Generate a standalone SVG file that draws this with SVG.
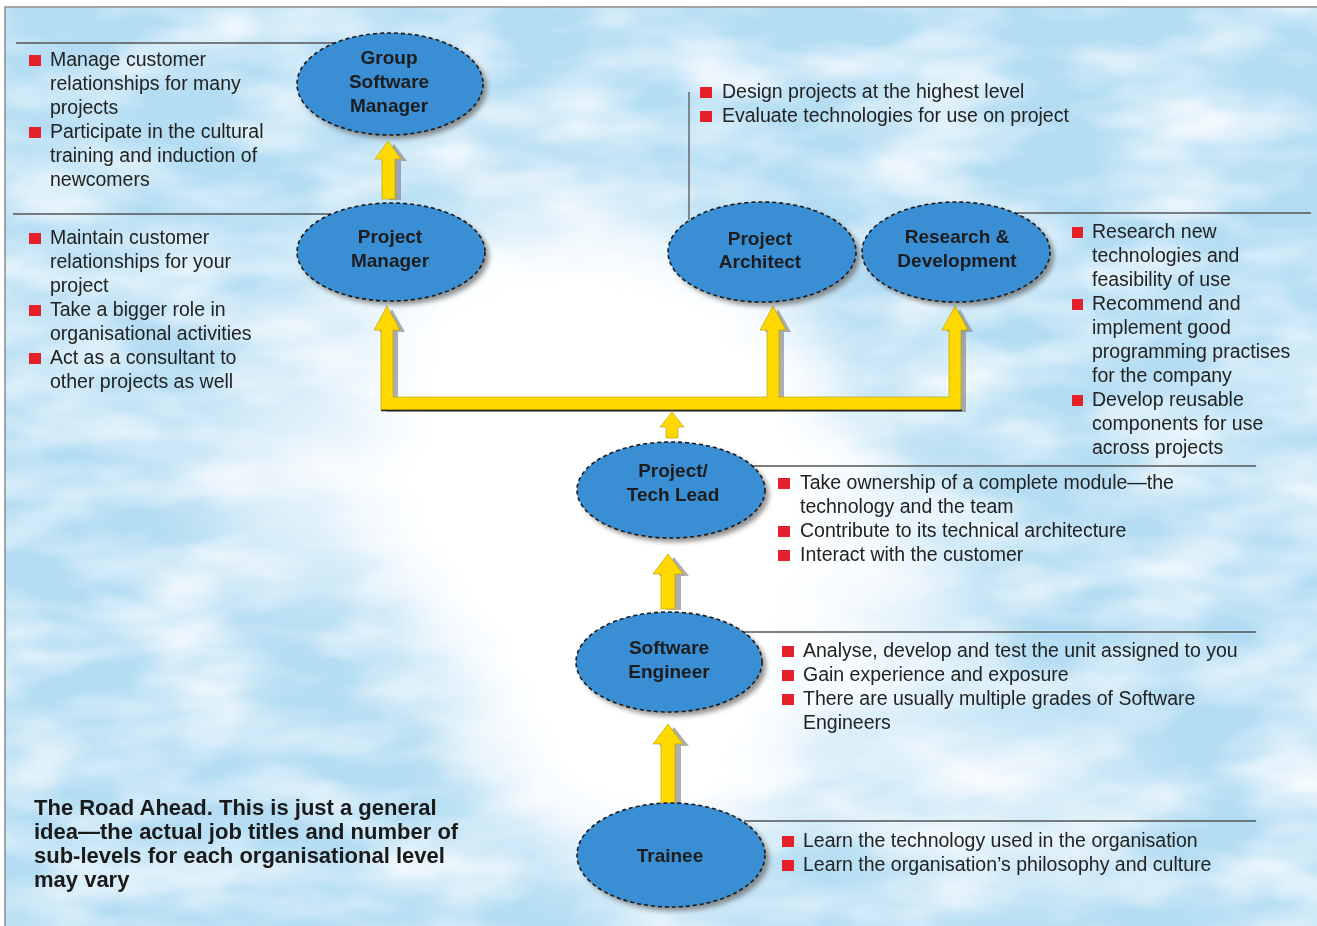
<svg xmlns="http://www.w3.org/2000/svg" width="1317" height="926" viewBox="0 0 1317 926">
<defs>
<style>
.t{font-family:"Liberation Sans",Arial,sans-serif;font-size:19.5px;fill:#222}
.n{font-family:"Liberation Sans",Arial,sans-serif;font-size:19px;font-weight:bold;fill:#1c1c1c;text-anchor:middle}
.c{font-family:"Liberation Sans",Arial,sans-serif;font-size:22px;font-weight:bold;fill:#1a1a1a}
.b{fill:#e5202a}
.rule{stroke:#555;stroke-width:1.3;fill:none}
.ell{fill:#3a8ed4;stroke:#1b1b1b;stroke-width:1.6;stroke-dasharray:4 3}
.sh{fill:#6d6d6d;opacity:0.75;filter:url(#blur)}
.arr{fill:#ffd800;stroke:#b39a00;stroke-width:0.6}
.ash{fill:#7a7a7a;opacity:0.6}
</style>
<filter id="blur" x="-20%" y="-20%" width="140%" height="140%"><feGaussianBlur stdDeviation="2.5"/></filter>
<filter id="soft" x="-50%" y="-50%" width="200%" height="200%"><feGaussianBlur stdDeviation="40"/></filter>
<filter id="tex" x="0" y="0" width="100%" height="100%">
<feTurbulence type="fractalNoise" baseFrequency="0.008 0.02" numOctaves="3" seed="4" result="n"/>
<feColorMatrix in="n" type="matrix" values="0 0 0 0 1  0 0 0 0 1  0 0 0 0 1  0 0 0 1.6 -0.55"/>
</filter>
</defs>
<g id="background">
<rect x="0" y="0" width="1317" height="926" fill="#ffffff"/>
<rect x="5" y="7" width="1312" height="919" fill="#b4ddf3"/>
<rect x="5" y="7" width="1312" height="919" filter="url(#tex)"/>
<g filter="url(#soft)" fill="#ffffff">
<ellipse cx="610" cy="480" rx="250" ry="260"/>
<ellipse cx="640" cy="720" rx="170" ry="150"/>
<ellipse cx="540" cy="320" rx="190" ry="100"/>
<ellipse cx="300" cy="470" rx="90" ry="120" opacity="0.6"/>
<ellipse cx="860" cy="600" rx="110" ry="140" opacity="0.7"/>
<ellipse cx="1000" cy="800" rx="140" ry="90" opacity="0.5"/>
</g>
<path d="M5 926 V7 H1317" fill="none" stroke="#8a8a8a" stroke-width="1.5"/>
</g>
<g id="connectors">
<path class="ash" d="M386 199 V160 H378 L391 143 L404 160 H398 V199 Z" transform="translate(3,1)"/>
<path class="arr" d="M382 199 V159 H375 L388 141 L401 159 H395 V199 Z"/>
<path class="ash" d="M384 411 V331 H377 L390 308 L403 331 H396 V399 H770 V331 H763 L776 308 L789 331 H782 V399 H952 V331 H945 L958 308 L971 331 H964 V411 Z" transform="translate(2,1)"/>
<path class="arr" d="M381 410 V330 H374 L387 306 L400 330 H393 V397 H767 V330 H760 L773 306 L786 330 H779 V397 H949 V330 H942 L955 306 L968 330 H961 V410 Z"/>
<line x1="381" y1="410.5" x2="962" y2="410.5" stroke="#222" stroke-width="1.5"/>
<path class="arr" d="M666 438 V427 H660 L672 412 L684 427 H678 V438 Z"/>
<path class="ash" d="M664 609 V575 H656 L671 556 L686 575 H678 V609 Z" transform="translate(3,1)"/>
<path class="arr" d="M661 609 V574 H653 L668 554 L683 574 H675 V609 Z"/>
<path class="ash" d="M664 804 V745 H656 L671 726 L686 745 H678 V804 Z" transform="translate(3,1)"/>
<path class="arr" d="M661 804 V744 H653 L668 724 L683 744 H675 V804 Z"/>
</g>
<g id="rules">
<line class="rule" x1="16" y1="43" x2="336" y2="43"/>
<line class="rule" x1="13" y1="214" x2="331" y2="214"/>
<line class="rule" x1="689" y1="92" x2="689" y2="220"/>
<line class="rule" x1="1015" y1="213" x2="1311" y2="213"/>
<line class="rule" x1="752" y1="466" x2="1256" y2="466"/>
<line class="rule" x1="743" y1="632" x2="1256" y2="632"/>
<line class="rule" x1="744" y1="821" x2="1256" y2="821"/>
</g>
<g id="group-software-manager">
<ellipse class="sh" cx="394" cy="88" rx="93" ry="51"/>
<ellipse class="ell" cx="390" cy="84" rx="93" ry="51"/>
<text class="n" x="389" y="64">Group</text>
<text class="n" x="389" y="88">Software</text>
<text class="n" x="389" y="112">Manager</text>
</g>
<g id="project-manager">
<ellipse class="sh" cx="395" cy="256" rx="94" ry="49"/>
<ellipse class="ell" cx="391" cy="252" rx="94" ry="49"/>
<text class="n" x="390" y="243">Project</text>
<text class="n" x="390" y="267">Manager</text>
</g>
<g id="project-architect">
<ellipse class="sh" cx="766" cy="256" rx="94" ry="50"/>
<ellipse class="ell" cx="762" cy="252" rx="94" ry="50"/>
<text class="n" x="760" y="245">Project</text>
<text class="n" x="760" y="268">Architect</text>
</g>
<g id="research-development">
<ellipse class="sh" cx="960" cy="256" rx="94" ry="50"/>
<ellipse class="ell" cx="956" cy="252" rx="94" ry="50"/>
<text class="n" x="957" y="243">Research &amp;</text>
<text class="n" x="957" y="267">Development</text>
</g>
<g id="tech-lead">
<ellipse class="sh" cx="675" cy="494" rx="94" ry="48"/>
<ellipse class="ell" cx="671" cy="490" rx="94" ry="48"/>
<text class="n" x="673" y="477">Project/</text>
<text class="n" x="673" y="501">Tech Lead</text>
</g>
<g id="software-engineer">
<ellipse class="sh" cx="673" cy="666" rx="93" ry="50"/>
<ellipse class="ell" cx="669" cy="662" rx="93" ry="50"/>
<text class="n" x="669" y="654">Software</text>
<text class="n" x="669" y="678">Engineer</text>
</g>
<g id="trainee">
<ellipse class="sh" cx="675" cy="859" rx="94" ry="52"/>
<ellipse class="ell" cx="671" cy="855" rx="94" ry="52"/>
<text class="n" x="670" y="862">Trainee</text>
</g>
<g id="gsm-notes">
<rect class="b" x="29" y="55" width="12" height="11"/>
<rect class="b" x="29" y="127" width="12" height="11"/>
<text class="t" x="50" y="66">Manage customer</text>
<text class="t" x="50" y="90">relationships for many</text>
<text class="t" x="50" y="114">projects</text>
<text class="t" x="50" y="138">Participate in the cultural</text>
<text class="t" x="50" y="162">training and induction of</text>
<text class="t" x="50" y="186">newcomers</text>
</g>
<g id="pm-notes">
<rect class="b" x="29" y="233" width="12" height="11"/>
<rect class="b" x="29" y="305" width="12" height="11"/>
<rect class="b" x="29" y="353" width="12" height="11"/>
<text class="t" x="50" y="244">Maintain customer</text>
<text class="t" x="50" y="268">relationships for your</text>
<text class="t" x="50" y="292">project</text>
<text class="t" x="50" y="316">Take a bigger role in</text>
<text class="t" x="50" y="340">organisational activities</text>
<text class="t" x="50" y="364">Act as a consultant to</text>
<text class="t" x="50" y="388">other projects as well</text>
</g>
<g id="pa-notes">
<rect class="b" x="700" y="87" width="12" height="11"/>
<rect class="b" x="700" y="111" width="12" height="11"/>
<text class="t" x="722" y="98">Design projects at the highest level</text>
<text class="t" x="722" y="122">Evaluate technologies for use on project</text>
</g>
<g id="rd-notes">
<rect class="b" x="1072" y="227" width="11" height="11"/>
<rect class="b" x="1072" y="299" width="11" height="11"/>
<rect class="b" x="1072" y="395" width="11" height="11"/>
<text class="t" x="1092" y="238">Research new</text>
<text class="t" x="1092" y="262">technologies and</text>
<text class="t" x="1092" y="286">feasibility of use</text>
<text class="t" x="1092" y="310">Recommend and</text>
<text class="t" x="1092" y="334">implement good</text>
<text class="t" x="1092" y="358">programming practises</text>
<text class="t" x="1092" y="382">for the company</text>
<text class="t" x="1092" y="406">Develop reusable</text>
<text class="t" x="1092" y="430">components for use</text>
<text class="t" x="1092" y="454">across projects</text>
</g>
<g id="tl-notes">
<rect class="b" x="778" y="478" width="12" height="11"/>
<rect class="b" x="778" y="526" width="12" height="11"/>
<rect class="b" x="778" y="550" width="12" height="11"/>
<text class="t" x="800" y="489">Take ownership of a complete module—the</text>
<text class="t" x="800" y="513">technology and the team</text>
<text class="t" x="800" y="537">Contribute to its technical architecture</text>
<text class="t" x="800" y="561">Interact with the customer</text>
</g>
<g id="se-notes">
<rect class="b" x="782" y="646" width="12" height="11"/>
<rect class="b" x="782" y="670" width="12" height="11"/>
<rect class="b" x="782" y="694" width="12" height="11"/>
<text class="t" x="803" y="657">Analyse, develop and test the unit assigned to you</text>
<text class="t" x="803" y="681">Gain experience and exposure</text>
<text class="t" x="803" y="705">There are usually multiple grades of Software</text>
<text class="t" x="803" y="729">Engineers</text>
</g>
<g id="trainee-notes">
<rect class="b" x="782" y="836" width="12" height="11"/>
<rect class="b" x="782" y="860" width="12" height="11"/>
<text class="t" x="803" y="847">Learn the technology used in the organisation</text>
<text class="t" x="803" y="871">Learn the organisation’s philosophy and culture</text>
</g>
<g id="caption">
<text class="c" x="34" y="815">The Road Ahead. This is just a general</text>
<text class="c" x="34" y="839">idea—the actual job titles and number of</text>
<text class="c" x="34" y="863">sub-levels for each organisational level</text>
<text class="c" x="34" y="887">may vary</text>
</g>
</svg>
